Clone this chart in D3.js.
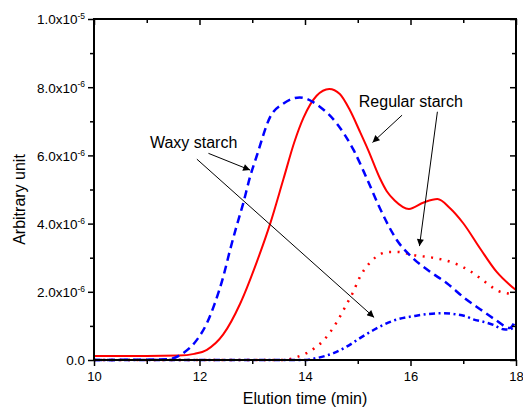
<!DOCTYPE html>
<html>
<head>
<meta charset="utf-8">
<script src="https://cdn.jsdelivr.net/npm/d3@7"></script>
<style>
  html, body { margin: 0; padding: 0; background: #fff; }
  svg { display: block; font-family: "Liberation Sans", Arial, sans-serif; }
</style>
</head>
<body>
<svg id="chart" width="523" height="408"></svg>
<script>
// Elution profiles (signal in units of 1e-6)
const regularTotalTime = [10, 11, 11.6, 11.9, 12.14, 12.45, 12.77, 13.08, 13.34, 13.59, 13.8, 13.97, 14.22, 14.46, 14.66, 14.85, 15.04, 15.2, 15.42, 15.55, 15.7, 15.97, 16.25, 16.51, 16.75, 17.0, 17.32, 17.63, 18];
const regularTotalValue = [0.12, 0.12, 0.13, 0.18, 0.3, 0.75, 1.65, 2.85, 4.0, 5.3, 6.4, 7.1, 7.75, 7.95, 7.8, 7.33, 6.7, 6.15, 5.33, 4.95, 4.68, 4.43, 4.62, 4.72, 4.45, 4.01, 3.27, 2.59, 2.05];

const waxyTotalTime = [10, 11.4, 11.69, 11.95, 12.14, 12.29, 12.45, 12.58, 12.7, 12.83, 12.96, 13.08, 13.34, 13.6, 13.9, 14.28, 14.6, 14.92, 15.17, 15.42, 15.74, 16.05, 16.37, 16.69, 17.03, 17.32, 17.6, 17.88, 18];
const waxyTotalValue = [0, 0.02, 0.2, 0.59, 1.08, 1.66, 2.44, 3.23, 3.91, 4.6, 5.38, 5.96, 7.13, 7.53, 7.7, 7.43, 6.94, 6.16, 5.33, 4.45, 3.52, 2.98, 2.59, 2.25, 1.81, 1.49, 1.19, 0.94, 1.2];

const regularFracTime = [10, 13.6, 13.87, 14.03, 14.19, 14.35, 14.47, 14.59, 14.69, 14.78, 14.9, 15.03, 15.12, 15.26, 15.42, 15.6, 15.77, 15.96, 16.05, 16.5, 16.81, 17.15, 17.32, 17.49, 17.67, 17.83, 18];
const regularFracValue = [0, 0, 0.1, 0.2, 0.36, 0.57, 0.8, 1.08, 1.35, 1.61, 1.95, 2.4, 2.64, 2.9, 3.1, 3.17, 3.17, 3.11, 3.08, 2.98, 2.85, 2.59, 2.4, 2.2, 2.02, 1.96, 1.93];

const waxyFracTime = [10, 14.0, 14.2, 14.54, 14.79, 15.04, 15.3, 15.67, 16.11, 16.6, 17.03, 17.19, 17.38, 17.57, 17.76, 17.87, 18];
const waxyFracValue = [0, 0, 0.05, 0.2, 0.39, 0.64, 0.88, 1.15, 1.3, 1.37, 1.29, 1.19, 1.12, 1.03, 0.9, 0.89, 1.05];

// Axis ticks
const xMajorTicks = [10, 12, 14, 16, 18];
const xMinorTicks = [11, 13, 15, 17];
const yMajorTicks = [0, 2, 4, 6, 8, 10];
const yMinorTicks = [1, 3, 5, 7, 9];
const yTickMantissa = ["0.0", "2.0", "4.0", "6.0", "8.0", "1.0"];
const yTickExponent = ["", "-6", "-6", "-6", "-6", "-5"];

// Annotations: label position and arrows, in data units (min, 1e-6)
const labelText = ["Regular starch", "Waxy starch"];
const labelTime = [15.02, 11.06];
const labelValue = [7.42, 6.22];
const arrowFromTime = [15.84, 16.51, 12.17, 11.95];
const arrowFromValue = [7.18, 7.28, 6.06, 5.89];
const arrowToTime = [15.28, 16.17, 12.96, 15.31];
const arrowToValue = [6.38, 3.34, 5.57, 1.25];

const svg = d3.select("#chart");
const x = d3.scaleLinear().domain([10, 18]).range([94, 516]);
const y = d3.scaleLinear().domain([0, 10]).range([360, 19]);

const zip = (ts, vs) => ts.map((t, i) => [t, vs[i]]);
const line = d3.line().x(d => x(d[0])).y(d => y(d[1])).curve(d3.curveMonotoneX);

const series = [
  { data: zip(regularTotalTime, regularTotalValue), color: "#ff0000", width: 2, dash: null },
  { data: zip(regularFracTime, regularFracValue), color: "#ff0000", width: 2.5, dash: "2,6.5" },
  { data: zip(waxyFracTime, waxyFracValue), color: "#0000ff", width: 2.5, dash: "6,3.5,2,3.5" },
  { data: zip(waxyTotalTime, waxyTotalValue), color: "#0000ff", width: 2.5, dash: "8,5" }
];

const plot = svg.append("g");
plot.selectAll("path.series")
  .data(series)
  .join("path")
  .attr("class", "series")
  .attr("d", d => line(d.data))
  .attr("fill", "none")
  .attr("stroke", d => d.color)
  .attr("stroke-width", d => d.width)
  .attr("stroke-dasharray", d => d.dash);

// Axes: outward ticks on left/bottom, inward ticks on right/top
function styleAxis(g) {
  g.select(".domain").remove();
  g.selectAll(".tick line").attr("stroke", "#000").attr("stroke-width", 1.5);
}
const major = 6, minor = 4;

svg.append("g").attr("transform", `translate(0,${y(0)})`)
  .call(d3.axisBottom(x).tickValues(xMajorTicks).tickSize(major).tickPadding(6).tickFormat(d3.format("d")))
  .call(styleAxis)
  .call(g => g.selectAll("text").attr("font-size", 13).attr("fill", "#000").attr("font-family", "Liberation Sans, Arial, sans-serif"));
svg.append("g").attr("transform", `translate(0,${y(0)})`)
  .call(d3.axisBottom(x).tickValues(xMinorTicks).tickSize(minor).tickFormat(""))
  .call(styleAxis);

svg.append("g").attr("transform", `translate(0,${y(10)})`)
  .call(d3.axisBottom(x).tickValues(xMajorTicks).tickSize(major).tickFormat(""))
  .call(styleAxis);
svg.append("g").attr("transform", `translate(0,${y(10)})`)
  .call(d3.axisBottom(x).tickValues(xMinorTicks).tickSize(minor).tickFormat(""))
  .call(styleAxis);

const leftAxis = svg.append("g").attr("transform", `translate(${x(10)},0)`)
  .call(d3.axisLeft(y).tickValues(yMajorTicks).tickSize(major).tickPadding(3).tickFormat(""))
  .call(styleAxis);
leftAxis.selectAll(".tick text").each(function(d, i) {
  const t = d3.select(this)
    .attr("font-size", 13.5).attr("fill", "#000")
    .attr("font-family", "Liberation Sans, Arial, sans-serif")
    .attr("dy", "0.36em");
  t.append("tspan").text(yTickMantissa[i] + (yTickExponent[i] ? "x10" : ""));
  if (yTickExponent[i]) {
    t.append("tspan").attr("font-size", 8.5).attr("dy", "-0.6em").text(yTickExponent[i]);
  }
});
svg.append("g").attr("transform", `translate(${x(10)},0)`)
  .call(d3.axisLeft(y).tickValues(yMinorTicks).tickSize(minor).tickFormat(""))
  .call(styleAxis);

svg.append("g").attr("transform", `translate(${x(18)},0)`)
  .call(d3.axisLeft(y).tickValues(yMajorTicks).tickSize(major).tickFormat(""))
  .call(styleAxis);
svg.append("g").attr("transform", `translate(${x(18)},0)`)
  .call(d3.axisLeft(y).tickValues(yMinorTicks).tickSize(minor).tickFormat(""))
  .call(styleAxis);

// Frame
svg.append("rect")
  .attr("x", x(10)).attr("y", y(10))
  .attr("width", x(18) - x(10)).attr("height", y(0) - y(10))
  .attr("fill", "none").attr("stroke", "#000").attr("stroke-width", 2);

// Axis titles
svg.append("text")
  .attr("x", (x(10) + x(18)) / 2).attr("y", 404)
  .attr("text-anchor", "middle").attr("font-size", 16)
  .text("Elution time (min)");
svg.append("text")
  .attr("transform", `translate(25,${(y(0) + y(10)) / 2 + 10}) rotate(-90)`)
  .attr("text-anchor", "middle").attr("font-size", 16)
  .text("Arbitrary unit");

// Annotations
svg.append("defs").append("marker")
  .attr("id", "head")
  .attr("viewBox", "0 0 10 10")
  .attr("refX", 10).attr("refY", 5)
  .attr("markerWidth", 10).attr("markerHeight", 7)
  .attr("markerUnits", "userSpaceOnUse")
  .attr("orient", "auto")
  .append("path").attr("d", "M0,0 L10,5 L0,10 Z").attr("fill", "#000");

svg.selectAll("line.arrow")
  .data(arrowFromTime)
  .join("line")
  .attr("class", "arrow")
  .attr("x1", (d, i) => x(arrowFromTime[i]))
  .attr("y1", (d, i) => y(arrowFromValue[i]))
  .attr("x2", (d, i) => x(arrowToTime[i]))
  .attr("y2", (d, i) => y(arrowToValue[i]))
  .attr("stroke", "#000").attr("stroke-width", 1)
  .attr("marker-end", "url(#head)");

svg.selectAll("text.label")
  .data(labelText)
  .join("text")
  .attr("class", "label")
  .attr("x", (d, i) => x(labelTime[i]))
  .attr("y", (d, i) => y(labelValue[i]))
  .attr("font-size", 16)
  .text(d => d);
</script>
</body>
</html>
